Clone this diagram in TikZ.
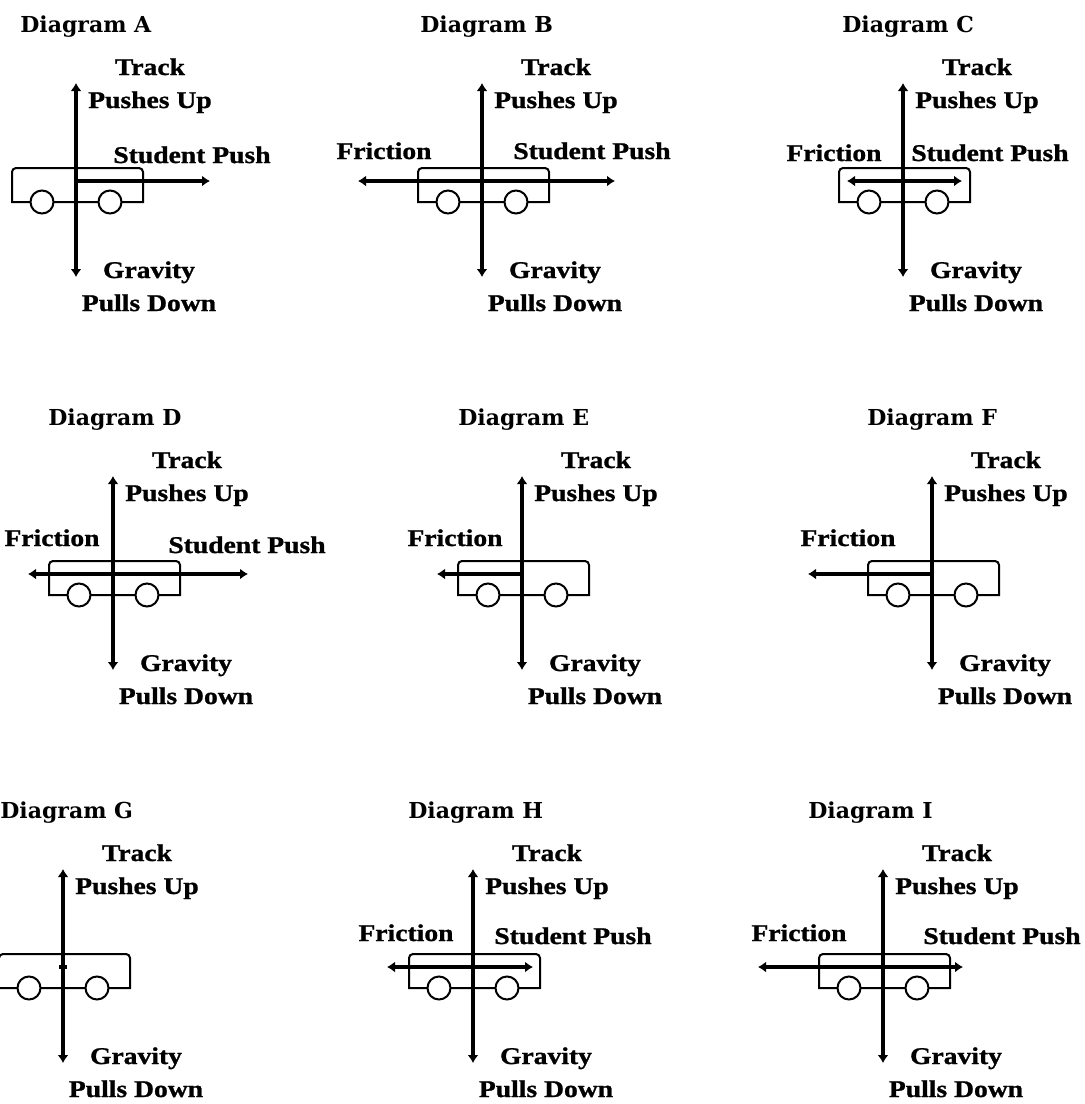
\documentclass[tikz,border=0pt]{standalone}
\usepackage{fontspec}
\usetikzlibrary{arrows.meta}
\newfontfamily\titlefont{DejaVu Serif}
\newfontfamily\forcefont{Liberation Serif}[FakeStretch=1.15,FakeBold=1]

\begin{document}
\begin{tikzpicture}[
  x = 0.5pt, y = -0.5pt,
  > = {Latex[length=4pt,width=5.5pt]},
  force/.style = {line width=2pt},
  body/.style = {line width=1pt},
  wheel/.style = {body,fill=white},
  title/.style = {anchor=base west,inner sep=0pt,font=\titlefont\bfseries\fontsize{11}{13}\selectfont},
  lbl/.style = {anchor=base,inner sep=0pt,font=\forcefont\bfseries\fontsize{12}{14}\selectfont}
  ]
  \useasboundingbox (0,0) rectangle (1085,1104);
  % one cart per diagram: name / track x / push line y / title x / friction end / push end
  \foreach \d/\vx/\hy/\tx/\fl/\fr in {A/76/181/-56/0/134, B/482/181/-62/-124/133, C/903/181/-61/-56/59,
                                      D/113/574/-65/-85/135, E/522/574/-64/-85/0, F/932/574/-65/-124/0,
                                      G/63/967/-63/-4/4, H/473/967/-65/-86/60, I/883/967/-75/-125/80}{
    \begin{scope}[shift={(\vx,\hy)}]
      \node[title] (title-\d) at (\tx,-149) {Diagram \d};
      \draw[body] (-64,21) [rounded corners=2pt] -- (-64,-13) -- (67,-13) [sharp corners] -- (67,21) -- cycle;
      \draw[wheel] (-34,21) circle[radius=11.5];
      \draw[wheel] (34,21) circle[radius=11.5];
      \coordinate (\d-up) at (0,-98);
      \coordinate (\d-down) at (0,96);
      \coordinate (\d-o) at (0,0);
      \coordinate (\d-fric) at (\fl,0);
      \coordinate (\d-push) at (\fr,0);
      \draw[force,<->] (\d-up) -- (\d-down);
      \node[lbl] (track-\d) at (74,-106) {Track};
      \node[lbl] (up-\d) at (74,-73) {Pushes Up};
      \node[lbl] (grav-\d) at (73,97) {Gravity};
      \node[lbl] (down-\d) at (73,130) {Pulls Down};
    \end{scope}
  }
  \draw[force,->] (A-o) -- (A-push);
  \draw[force,<->] (B-fric) -- (B-push);
  \draw[force,<->] (C-fric) -- (C-push);
  \draw[force,<->] (D-fric) -- (D-push);
  \draw[force,<-] (E-fric) -- (E-o);
  \draw[force,<-] (F-fric) -- (F-o);
  \draw[force] (G-fric) -- (G-push);
  \draw[force,<->] (H-fric) -- (H-push);
  \draw[force,<->] (I-fric) -- (I-push);
  \node[lbl] (push-A) at (192,163) {Student Push};
  \node[lbl] (fric-B) at (384,159) {Friction};
  \node[lbl] (push-B) at (592,159) {Student Push};
  \node[lbl] (fric-C) at (834,161) {Friction};
  \node[lbl] (push-C) at (990,161) {Student Push};
  \node[lbl] (fric-D) at (52,546) {Friction};
  \node[lbl] (push-D) at (247,553) {Student Push};
  \node[lbl] (fric-E) at (455,546) {Friction};
  \node[lbl] (fric-F) at (848,546) {Friction};
  \node[lbl] (fric-H) at (406,941) {Friction};
  \node[lbl] (push-H) at (573,944) {Student Push};
  \node[lbl] (fric-I) at (799,941) {Friction};
  \node[lbl] (push-I) at (1002,944) {Student Push};
\end{tikzpicture}
\end{document}
